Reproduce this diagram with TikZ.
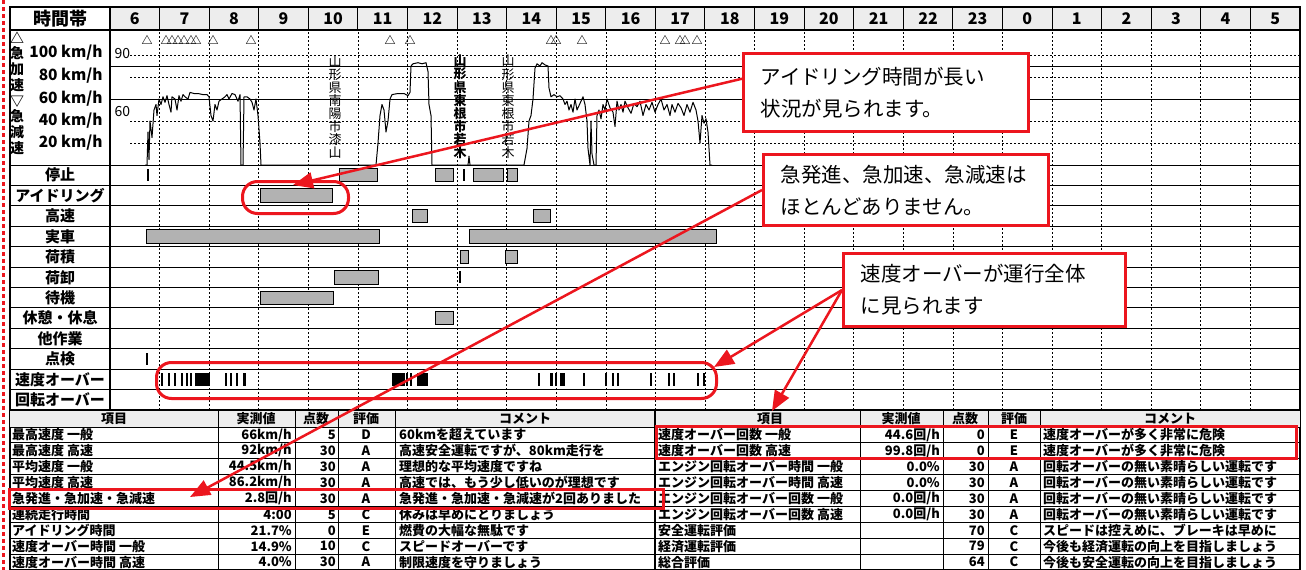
\documentclass[tikz,border=0pt]{standalone}
\usepackage{fontspec}
\setmainfont{Noto Sans CJK JP}
\usepackage{tikz}
\usetikzlibrary{
  arrows.meta,
  calc,
  positioning
}
\definecolor{noteRed}{RGB}{236,22,30}
\newcommand{\hourx}[1]{110+#1*49.58}

\tikzset{
  grid dot/.style={black, line width=0.6pt, dash pattern=on 1.5pt off 2.5pt},
  act bar/.style={draw=black, line width=1pt, fill=gray!60},
  note box/.style={draw=noteRed, line width=3pt, fill=white, align=left,
    inner xsep=17pt, inner ysep=0pt, anchor=north west,
    font=\fontsize{20.5}{32}\selectfont},
  note ring/.style={draw=noteRed, line width=3pt, anchor=north west, inner sep=0pt},
  note arrow/.style={draw=noteRed, line width=2.5pt, -{Triangle[length=20pt,width=16pt]}},
  cell/.style={font=\fontsize{13}{13}\selectfont\bfseries, inner sep=0pt}
}

\begin{document}
\begin{tikzpicture}[x=1pt, y=-1pt, font=\fontsize{13}{13}\selectfont]
  \useasboundingbox (0,0) rectangle (1306,570);
  \fill[white] (0,0) rectangle (1306,570);
  \draw[noteRed, line width=3pt, dash pattern=on 4pt off 3pt] (3.5,0) -- (3.5,570);

  % Header row
  \fill[gray!14] (110,7) rectangle (1300,30);
  \node[font=\fontsize{18}{18}\selectfont\bfseries] (hdr) at (60,18.5) {時間帯};
  \foreach \h [count=\i from 0] in {6,...,23,0,1,2,3,4,5} {
    \node[font=\fontsize{16}{16}\selectfont\bfseries] (hour\i) at ({\hourx{\i}+24.8},18.5) {\h};
    \draw[line width=1pt] ({\hourx{\i}},7) -- ({\hourx{\i}},30);
  }

  % Speed chart
  \foreach \k in {1,...,23}
    \draw[grid dot] ({\hourx{\k}},32) -- ({\hourx{\k}},410);
  \foreach \yy in {55,77,121,143}
    \draw[grid dot] (130,\yy) -- (1300,\yy);
  \draw[line width=1pt] (110,66) -- (1300,66);
  \draw[line width=1pt] (110,99) -- (1300,99);
  \node[align=center, font=\fontsize{14}{15.7}\selectfont\bfseries] (acclab) at (17,93) {△\\急\\加\\速\\▽\\急\\減\\速};
  \foreach \v/\yy in {100/53,80/76,60/99,40/121,20/143}
    \node[anchor=east, font=\fontsize{15.5}{15.5}\selectfont\bfseries] (kmh\v) at (106,\yy) {\v\ km/h};
  \node[anchor=west, font=\fontsize{14}{14}\selectfont] (mark90) at (111,54) {90};
  \node[anchor=west, font=\fontsize{14}{14}\selectfont] (mark60) at (111,112) {60};
  \foreach \tx in {147,166,172,178,184,191,196,213,251,390,410,551,556,582,665,680,685,697}
    \node[font=\fontsize{11}{11}\selectfont\bfseries, inner sep=0pt] (tri\tx) at (\tx,40) {△};
  \begin{scope}[shift={(0,165)}, yscale=-1.1]
    \draw[line width=1pt, line join=round] plot coordinates {
      (145,0) (147,0) (148,30) (149,5) (150,40) (152,25) (154,50) (156,55) (157,45)
      (159,60) (161,55) (163,62) (165,57) (167,63) (169,55) (171,48) (172,62) (175,60)
      (177,50) (179,63) (181,58) (183,64) (185,62) (188,60) (190,66) (194,65) (198,65)
      (203,64) (207,64) (209,62) (211,45) (213,40) (215,55) (217,50) (219,58) (222,60)
      (225,62) (227,64) (229,60) (232,65) (235,64) (238,58) (240,64) (241,0) (243,0)
      (244,62) (247,62) (250,60) (252,57) (254,50) (256,60) (258,45) (260,20) (261,0)
      (376,0) (378,20) (380,45) (382,55) (384,50) (386,30) (388,40) (390,60) (392,64)
      (398,65) (404,65) (408,63) (410,66) (411,90) (413,92) (418,93) (422,92) (426,93)
      (428,85) (429,55) (431,45) (432,0) (468,0) (469,8) (470,0)
      (524,0) (527,15) (529,40) (531,45) (533,60) (535,88) (537,92) (540,90) (542,93)
      (545,91) (548,90) (549,70) (551,62) (554,64) (557,62) (560,63) (563,60) (565,55)
      (567,58) (569,50) (571,55) (573,48) (575,60) (577,50) (580,56) (583,62) (585,55)
      (587,40) (588,15) (590,0) (591,40) (592,10) (594,0) (596,0) (597,45) (599,50)
      (601,42) (603,55) (605,50) (607,60) (610,52) (613,48) (615,35) (617,58) (619,50)
      (621,55) (623,48) (625,58) (628,52) (631,47) (634,56) (637,53) (640,58) (643,45)
      (646,55) (649,50) (652,57) (655,48) (658,55) (661,60) (664,50) (667,55) (670,45)
      (672,55) (675,48) (678,56) (681,52) (684,45) (687,55) (690,48) (693,57) (696,50)
      (698,40) (700,20) (702,45) (704,38) (706,42) (708,30) (710,0) (712,0)};
  \end{scope}
  \node[align=center, font=\fontsize{13}{13.1}\selectfont] (town1) at (335,107) {山\\形\\県\\南\\陽\\市\\漆\\山};
  \node[align=center, font=\fontsize{13}{13.1}\selectfont\bfseries] (town2) at (460,107) {山\\形\\県\\東\\根\\市\\若\\木};
  \node[align=center, font=\fontsize{13}{13.1}\selectfont] (town3) at (508,107) {山\\形\\県\\東\\根\\市\\若\\木};

  % Activity rows
  \foreach \lab [count=\r from 0] in {停止,アイドリング,高速,実車,荷積,荷卸,待機,休憩・休息,他作業,点検,速度オーバー,回転オーバー}
    \node[font=\fontsize{15}{15}\selectfont\bfseries] (act\r) at (60,{175.2+\r*20.42}) {\lab};
  \foreach \r in {0,...,12}
    \draw[line width=1pt] (10,{165+\r*20.42}) -- (1300,{165+\r*20.42});
  \foreach \r/\xa/\xb in {0/339/377,0/435/453,0/473/503,0/507/517,1/260/332,2/412/427,2/533/550,
      3/146/379,3/469/716,4/460/468,4/505/517,5/334/378,6/260/333,7/435/453}
    \draw[act bar] (\xa,{168.5+\r*20.42}) rectangle (\xb,{181.9+\r*20.42});
  \foreach \r/\xa in {0/147,0/463,5/459,9/146}
    \fill (\xa,{169+\r*20.42}) rectangle ({\xa+2},{181+\r*20.42});
  \foreach \xa/\w in {161/2,168/1.5,174/2,181/1.5,186/2,190/2,195/15,225/2,230/2,236/2,243/2.5,
      392/13,406/2,410/2,417/11,538/2,550/3,555/2,560/5,583/2,605/2,612/2,617/2,650/2,668/2,
      673/2,697/2,703/1.5}
    \fill (\xa,373) rectangle ({\xa+\w},386);

  % Frame
  \draw[line width=1.6pt] (10,7) rectangle (1300,570);
  \draw[line width=1.2pt] (10,30) -- (1300,30);
  \draw[line width=1.2pt] (110,7) -- (110,410);

  % Tables
  \fill[gray!14] (10,410) rectangle (1300,427);
  \draw[line width=1.6pt] (10,410) -- (1300,410);
  \foreach \r in {0,...,9}
    \draw[line width=0.9pt] (10,{427+\r*15.9}) -- (1300,{427+\r*15.9});
  \foreach \cx in {218,295,338,395,860,943,988,1040}
    \draw[line width=0.9pt] (\cx,410) -- (\cx,570);
  \draw[line width=1.6pt] (655,410) -- (655,570);
  \foreach \t/\cx [count=\c] in {項目/114,実測値/256,点数/316,評価/366,コメント/525,
      項目/770,実測値/901,点数/965,評価/1014,コメント/1170}
    \node[cell] (head\c) at (\cx,418.5) {\t};
  \foreach \itm/\val/\pts/\grd/\cmt [count=\r] in {
      {最高速度 一般}/{66km/h}/5/D/{60kmを超えています},
      {最高速度 高速}/{92km/h}/30/A/{高速安全運転ですが、80km走行を},
      {平均速度 一般}/{44.5km/h}/30/A/{理想的な平均速度ですね},
      {平均速度 高速}/{86.2km/h}/30/A/{高速では、もう少し低いのが理想です},
      {急発進・急加速・急減速}/{2.8回/h}/30/A/{急発進・急加速・急減速が2回ありました},
      {連続走行時間}/{4:00}/5/C/{休みは早めにとりましょう},
      {アイドリング時間}/{21.7\%}/0/E/{燃費の大幅な無駄です},
      {速度オーバー時間 一般}/{14.9\%}/10/C/{スピードオーバーです},
      {速度オーバー時間 高速}/{4.0\%}/30/A/{制限速度を守りましょう}} {
    \node[cell, anchor=west] (litem\r) at (12,{419.05+\r*15.9}) {\itm};
    \node[cell, anchor=east] (lval\r) at (292,{419.05+\r*15.9}) {\val};
    \node[cell, anchor=east] (lpts\r) at (336,{419.05+\r*15.9}) {\pts};
    \node[cell] (lgrd\r) at (366,{419.05+\r*15.9}) {\grd};
    \node[cell, anchor=west] (lcmt\r) at (399,{419.05+\r*15.9}) {\cmt};
  }
  \foreach \itm/\val/\pts/\grd/\cmt [count=\r] in {
      {速度オーバー回数 一般}/{44.6回/h}/0/E/{速度オーバーが多く非常に危険},
      {速度オーバー回数 高速}/{99.8回/h}/0/E/{速度オーバーが多く非常に危険},
      {エンジン回転オーバー時間 一般}/{0.0\%}/30/A/{回転オーバーの無い素晴らしい運転です},
      {エンジン回転オーバー時間 高速}/{0.0\%}/30/A/{回転オーバーの無い素晴らしい運転です},
      {エンジン回転オーバー回数 一般}/{0.0回/h}/30/A/{回転オーバーの無い素晴らしい運転です},
      {エンジン回転オーバー回数 高速}/{0.0回/h}/30/A/{回転オーバーの無い素晴らしい運転です},
      {安全運転評価}/{}/70/C/{スピードは控えめに、ブレーキは早めに},
      {経済運転評価}/{}/79/C/{今後も経済運転の向上を目指しましょう},
      {総合評価}/{}/64/C/{今後も安全運転の向上を目指しましょう}} {
    \node[cell, anchor=west] (ritem\r) at (658,{419.05+\r*15.9}) {\itm};
    \node[cell, anchor=east] (rval\r) at (940,{419.05+\r*15.9}) {\val};
    \node[cell, anchor=east] (rpts\r) at (985,{419.05+\r*15.9}) {\pts};
    \node[cell] (rgrd\r) at (1014,{419.05+\r*15.9}) {\grd};
    \node[cell, anchor=west] (rcmt\r) at (1043,{419.05+\r*15.9}) {\cmt};
  }

  % Highlights
  \node[note ring, rounded corners=15pt, minimum width=106pt, minimum height=32pt] (idlering) at (241,180) {};
  \node[note ring, rounded corners=15pt, minimum width=560pt, minimum height=36pt] (overring) at (155,361) {};
  \node[note ring, minimum width=654pt, minimum height=19pt] (accrow) at (8,488) {};
  \node[note ring, minimum width=640pt, minimum height=32pt] (overtab) at (655,425) {};

  % Callouts
  \node[note box, text width=251pt, minimum height=78pt] (idlenote) at (742,52)
    {アイドリング時間が長い\\状況が見られます。};
  \node[note box, text width=251pt, minimum height=71pt] (accnote) at (762,153)
    {急発進、急加速、急減速は\\ほとんどありません。};
  \node[note box, text width=248pt, minimum height=73pt] (overnote) at (842,252)
    {速度オーバーが運行全体\\に見られます};
  \coordinate (idletip) at (293,185);
  \coordinate (acctip) at (190,497);
  \coordinate (overtipA) at (714,367);
  \coordinate (overtipB) at (772,411);
  \draw[note arrow] ($(idlenote.north west)!0.33!(idlenote.south west)$) -- (idletip);
  \draw[note arrow] (accnote.west) -- (acctip);
  \draw[note arrow] (overnote.west) -- (overtipA);
  \draw[note arrow] (overnote.west) -- (overtipB);
\end{tikzpicture}
\end{document}
